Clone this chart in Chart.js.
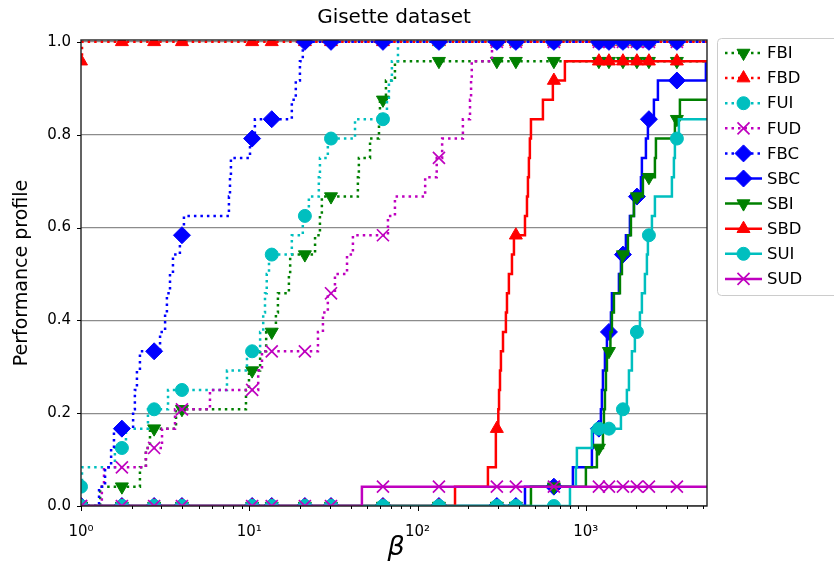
<!DOCTYPE html>
<html>
<head>
<meta charset="utf-8">
<script src="https://cdn.jsdelivr.net/npm/chart.js@4.4.1/dist/chart.umd.min.js"></script>
<style>
  html, body { margin: 0; padding: 0; background: #fff; }
</style>
</head>
<body>
<canvas id="profile" width="834" height="565"></canvas>
<script>
// Gisette: 24 problems, performance ratio of each solver per problem.
// Problems a solver never finished are simply left out of its list.
var nProblems = 24;
var betaMax = 5250;

var ratFBI = [1.30, 2.24, 2.43, 2.57, 3.67, 9.56, 9.96, 11.6, 12.6, 14.4, 14.8, 17.2, 17.5, 24.6, 26.3, 27.0, 44.2, 44.8, 52.2, 59.0, 59.8, 64.9, 73.4];
var ratFBD = [1, 1, 1, 1, 1, 1, 1, 1, 1, 1, 1, 1, 1, 1, 1, 1, 1, 1, 1, 1, 1, 1, 1, 1.014];
var ratFUI = [1, 1.014, 1.59, 1.85, 2.50, 3.29, 7.37, 9.69, 11.6, 12.1, 12.4, 12.7, 13.1, 17.9, 20.8, 22.6, 25.9, 26.3, 29.3, 42.5, 65.8, 67.6, 70.4, 76.5];
var ratFUD = [1.33, 1.37, 2.43, 3.03, 3.62, 5.84, 11.3, 11.9, 25.6, 27.4, 29.3, 32.3, 38.1, 41.3, 66.7, 73.4, 111, 130, 140, 186, 205, 208, 210, 277];
var ratFBC = [1.28, 1.39, 1.51, 1.57, 2.04, 2.09, 2.15, 2.24, 2.95, 3.16, 3.24, 3.38, 3.52, 3.87, 4.09, 7.57, 7.68, 7.78, 10.1, 10.8, 17.9, 18.9, 20.0, 20.8];
var ratSBC = [435, 838, 1087, 1102, 1229, 1246, 1264, 1299, 1335, 1410, 1429, 1573, 1617, 1731, 1828, 1932, 2126, 2154, 2276, 2339, 2539, 2682, 5171];
var ratSBI = [472, 1001, 1164, 1264, 1281, 1299, 1317, 1335, 1400, 1429, 1469, 1595, 1639, 1779, 1854, 1932, 2184, 2574, 2610, 3384, 3624];
var ratSBD = [167, 262, 292, 292, 302, 305, 309, 313, 322, 335, 340, 349, 364, 374, 435, 447, 453, 459, 465, 472, 556, 637, 751];
var ratSUI = [805, 873, 885, 1087, 1617, 1754, 1804, 1879, 1957, 2097, 2154, 2245, 2307, 2339, 2471, 2574, 3248, 3338, 3384, 3574];
var ratSUD = [46.7];

// beta values where markers are placed on every curve
var markBeta = [1, 1.75, 2.72, 3.98, 10.4, 13.6, 21.4, 30.6, 62.3, 134, 296, 384, 646, 1196, 1372, 1662, 2012, 2371, 3477];

var names = ["FBI", "FBD", "FUI", "FUD", "FBC", "SBC", "SBI", "SBD", "SUI", "SUD"];
var ratios = [ratFBI, ratFBD, ratFUI, ratFUD, ratFBC, ratSBC, ratSBI, ratSBD, ratSUI, ratSUD];
var colors = ["#008000", "#ff0000", "#00bfbf", "#bf00bf", "#0000ff", "#0000ff", "#008000", "#ff0000", "#00bfbf", "#bf00bf"];
var marks = ["down", "up", "circle", "x", "diamond", "diamond", "down", "up", "circle", "x"];
var dotted = [true, true, true, true, true, false, false, false, false, false];

var yTicks = [0, 0.2, 0.4, 0.6, 0.8, 1.0];
var xTickLabels = ["10\u2070", "10\u00b9", "10\u00b2", "10\u00b3"];

var markerStyle = {
  down:    { pointStyle: 'triangle', rotation: 180, radius: 7.5, borderWidth: 1 },
  up:      { pointStyle: 'triangle', rotation: 0,   radius: 7.5, borderWidth: 1 },
  circle:  { pointStyle: 'circle',   rotation: 0,   radius: 6.5, borderWidth: 1 },
  x:       { pointStyle: 'crossRot', rotation: 0,   radius: 8.5, borderWidth: 1.7 },
  diamond: { pointStyle: 'rectRot',  rotation: 0,   radius: 8.5, borderWidth: 1 }
};
var dotDash = [2.5, 4];

function solvedBy(sorted, b) {
  return sorted.filter(function (v) { return v <= b; }).length / nProblems;
}

// step points of the performance profile rho(beta)
function stepPoints(sorted) {
  var pts = [{ x: 1, y: solvedBy(sorted, 1) }];
  sorted.forEach(function (v, i) {
    if (v > 1) pts.push({ x: v, y: (i + 1) / nProblems });
  });
  pts.push({ x: betaMax, y: sorted.length / nProblems });
  return pts;
}

var datasets = [];
names.forEach(function (name, i) {
  var sorted = ratios[i].slice().sort(function (a, b) { return a - b; });
  var st = markerStyle[marks[i]];
  datasets.push({
    label: name,
    data: stepPoints(sorted),
    stepped: 'before',
    borderColor: colors[i],
    borderWidth: 2.5,
    borderDash: dotted[i] ? dotDash : [],
    pointRadius: 0,
    fill: false,
    clip: 0,
    order: 2 * (names.length - i) + 1
  });
  datasets.push({
    label: name + ' markers',
    data: markBeta.map(function (b) { return { x: b, y: solvedBy(sorted, b) }; }),
    showLine: false,
    pointStyle: st.pointStyle,
    pointRotation: st.rotation,
    pointRadius: st.radius,
    pointBorderWidth: st.borderWidth,
    pointBackgroundColor: colors[i],
    pointBorderColor: colors[i],
    clip: 0,
    order: 2 * (names.length - i)
  });
});

// spines, tick marks, titles and the legend box
var decor = {
  id: 'decor',
  afterDatasetsDraw: function (chart) {
    var ctx = chart.ctx, a = chart.chartArea;
    var xs = chart.scales.x, ys = chart.scales.y;
    ctx.save();
    ctx.strokeStyle = '#222';
    ctx.lineWidth = 1.4;
    ctx.setLineDash([]);
    ctx.strokeRect(a.left, a.top, a.right - a.left, a.bottom - a.top);
    ctx.lineWidth = 1;
    ctx.strokeStyle = '#000';
    xs.ticks.forEach(function (t) {
      var px = Math.round(xs.getPixelForValue(t.value)) + 0.5;
      var len = t.major ? 5 : 3;
      ctx.beginPath();
      ctx.moveTo(px, a.bottom);
      ctx.lineTo(px, a.bottom + len);
      ctx.stroke();
    });
    yTicks.forEach(function (v) {
      var py = Math.round(ys.getPixelForValue(v)) + 0.5;
      ctx.beginPath();
      ctx.moveTo(a.left - 4, py);
      ctx.lineTo(a.left, py);
      ctx.stroke();
    });
    ctx.restore();
  },
  afterDraw: function (chart) {
    var ctx = chart.ctx, a = chart.chartArea;
    ctx.save();
    ctx.fillStyle = '#000';
    ctx.textAlign = 'center';
    ctx.textBaseline = 'middle';
    ctx.font = '20px "DejaVu Sans"';
    ctx.fillText('Gisette dataset', (a.left + a.right) / 2, 18);
    ctx.font = 'italic 27px "DejaVu Sans"';
    ctx.fillText('\u03b2', (a.left + a.right) / 2 + 2, 548);
    ctx.translate(22, (a.top + a.bottom) / 2);
    ctx.rotate(-Math.PI / 2);
    ctx.font = '19px "DejaVu Sans"';
    ctx.fillText('Performance profile', 0, 0);
    ctx.restore();

    // legend
    ctx.save();
    ctx.beginPath();
    ctx.roundRect(717.5, 38.5, 130, 257, 4);
    ctx.fillStyle = 'rgba(255,255,255,0.9)';
    ctx.fill();
    ctx.strokeStyle = '#cccccc';
    ctx.lineWidth = 1;
    ctx.stroke();
    names.forEach(function (name, i) {
      var y = 53 + i * 25.1;
      var st = markerStyle[marks[i]];
      ctx.strokeStyle = colors[i];
      ctx.fillStyle = colors[i];
      ctx.lineWidth = 2.5;
      ctx.setLineDash(dotted[i] ? dotDash : []);
      ctx.beginPath();
      ctx.moveTo(725, y);
      ctx.lineTo(762, y);
      ctx.stroke();
      ctx.setLineDash([]);
      ctx.lineWidth = st.borderWidth;
      Chart.helpers.drawPoint(ctx, {
        pointStyle: st.pointStyle, rotation: st.rotation,
        radius: st.radius, borderWidth: st.borderWidth
      }, 743.5, y);
      ctx.fillStyle = '#000';
      ctx.font = '16.5px "DejaVu Sans"';
      ctx.textAlign = 'left';
      ctx.textBaseline = 'middle';
      ctx.fillText(name, 767, y + 1);
    });
    ctx.restore();
  }
};

Chart.defaults.font.family = '"DejaVu Sans"';
Chart.defaults.color = '#000';

new Chart(document.getElementById('profile'), {
  type: 'line',
  data: { datasets: datasets },
  options: {
    responsive: false,
    animation: false,
    devicePixelRatio: 1,
    events: [],
    layout: { padding: { top: 40, right: 127, bottom: 0, left: 0 } },
    plugins: { legend: { display: false }, tooltip: { enabled: false }, title: { display: false } },
    scales: {
      x: {
        type: 'logarithmic',
        min: 1,
        max: betaMax,
        afterBuildTicks: function (sc) {
          var t = [];
          for (var d = 1; d <= 1000; d *= 10) {
            for (var m = 1; m < 10; m++) {
              if (m * d <= betaMax) t.push({ value: m * d, major: m === 1 });
            }
          }
          sc.ticks = t;
        },
        afterFit: function (sc) { sc.height = 59; },
        ticks: {
          autoSkip: false,
          maxRotation: 0,
          padding: 9,
          font: { size: 15 },
          callback: function (v) {
            var p = Math.round(Math.log10(v));
            return Math.abs(v - Math.pow(10, p)) < 1e-9 ? xTickLabels[p] : '';
          }
        },
        grid: { display: false },
        border: { display: false }
      },
      y: {
        min: 0,
        max: 1.004,
        afterBuildTicks: function (sc) {
          sc.ticks = yTicks.map(function (v) { return { value: v }; });
        },
        afterFit: function (sc) { sc.width = 81; },
        ticks: {
          padding: 10,
          font: { size: 15 },
          callback: function (v) { return v.toFixed(1); }
        },
        grid: { color: '#8c8c8c', lineWidth: 1.2, drawTicks: false },
        border: { display: false }
      }
    }
  },
  plugins: [decor]
});
</script>
</body>
</html>
